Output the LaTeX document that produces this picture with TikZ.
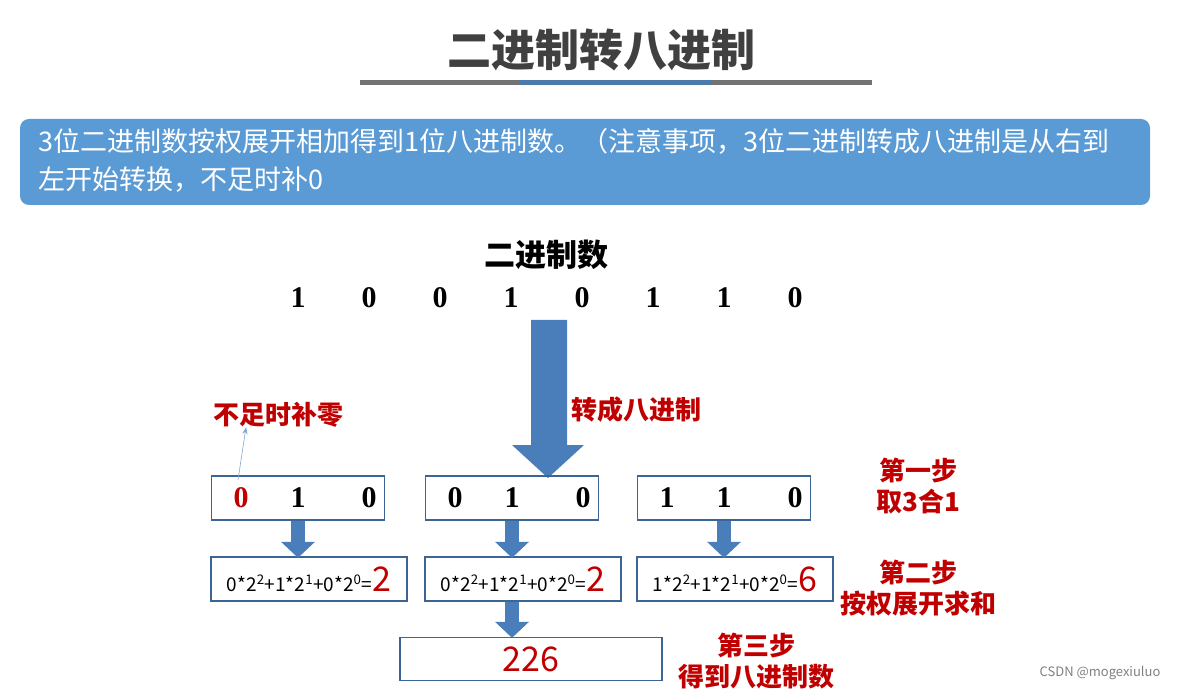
\documentclass[tikz,border=0pt]{standalone}
\usepackage{fontspec}
\setmainfont{Noto Sans CJK SC}
\newfontfamily\digitfont{Liberation Serif}
\usetikzlibrary{positioning}
\usetikzlibrary{arrows.meta}
\usetikzlibrary{calc}
\definecolor{bandblue}{HTML}{5B9BD5}
\definecolor{arrowblue}{HTML}{4A7EBB}
\definecolor{boxline}{HTML}{3A6595}
\definecolor{stepred}{HTML}{C00000}

\begin{document}
\begin{tikzpicture}[x=1pt, y=-1pt,
  digit/.style={font=\digitfont\bfseries\fontsize{30}{30}\selectfont},
  grp/.style={draw=boxline, line width=1.6pt, minimum width=173pt, minimum height=44pt},
  sumbox/.style={draw=boxline, line width=1.6pt, minimum width=196pt, minimum height=44pt, font=\fontsize{15}{15}\selectfont},
  steplabel/.style={text=stepred, font=\bfseries\fontsize{26}{31}\selectfont, align=center},
  sumtext/.style={font=\fontsize{19}{19}\selectfont, inner sep=0pt},
  fatarrow/.style={fill=arrowblue, draw=none}]
 	 \useasboundingbox (0,0) rectangle (1185,692);
 	 % title
 	 \node[font=\bfseries\fontsize{44}{44}\selectfont, text=black!75] (title) at (601,50) {二进制转八进制};
 	 \draw[line width=5pt, black!55] (360,83) -- (872,83);
 	 \draw[line width=5pt, bandblue!80!black] (520,83) -- (712,83);
 	 % note band
 	 \node[fill=bandblue, rounded corners=9pt, minimum width=1130pt, minimum height=86pt] (band) at (585,162) {};
 	 \node[anchor=north west, text=white, font=\fontsize{27}{38}\selectfont, align=left, inner sep=0pt] (note) at (38,128)
 	   {3位二进制数按权展开相加得到1位八进制数。（注意事项，3位二进制转成八进制是从右到\\左开始转换，不足时补0};
 	 % binary number
 	 \node[font=\bfseries\fontsize{31}{31}\selectfont] (bin) at (546,255) {二进制数};
 	 \foreach \d [count=\i] in {1,0,0,1,0,1,1,0} {
 	 	\node[digit] (b\i) at ({298+71*(\i-1)},298) {\d};
 	 }
 	 % big arrow
 	 \fill[fatarrow] (531,320) -- (567,320) -- (567,445) -- (584,445) -- (548,478) -- (512,445) -- (531,445) -- cycle;
 	 \node[steplabel, anchor=west] (conv) at (568,410) {转成八进制};
 	 % groups of three
 	 \foreach \x/\n in {298/1,512/2,724/3} {
 	 	\node[grp] (g\n) at (\x,498) {};
 	 	\node[sumbox] (s\n) at ({\x+11},579) {};
 	 	\fill[fatarrow] ($(g\n.south)+(-7,0)$) rectangle ($(g\n.south)+(7,23)$);
 	 	\fill[fatarrow] ($(g\n.south)+(-17,21)$) -- ($(g\n.south)+(17,21)$) -- ($(g\n.south)+(0,37)$) -- cycle;
 	 }
 	 \foreach \n/\a/\b/\c in {1/0/1/0,2/0/1/0,3/1/1/0} {
 	 	\node[digit] (d\n a) at ($(g\n)+(-57,0)$) {\a};
 	 	\node[digit] (d\n b) at (g\n) {\b};
 	 	\node[digit] (d\n c) at ($(g\n)+(71,0)$) {\c};
 	 }
 	 \node[digit, text=stepred, fill=white, inner sep=1pt] at (d1a) {0};
 	 % sums
 	 \node[sumtext] at (s1) {0*2\textsuperscript{2}+1*2\textsuperscript{1}+0*2\textsuperscript{0}={\color{stepred}\fontsize{34}{34}\selectfont 2}};
 	 \node[sumtext] at (s2) {0*2\textsuperscript{2}+1*2\textsuperscript{1}+0*2\textsuperscript{0}={\color{stepred}\fontsize{34}{34}\selectfont 2}};
 	 \node[sumtext] at (s3) {1*2\textsuperscript{2}+1*2\textsuperscript{1}+0*2\textsuperscript{0}={\color{stepred}\fontsize{34}{34}\selectfont 6}};
 	 % result
 	 \node[draw=boxline, line width=1.6pt, minimum width=262pt, minimum height=43pt, text=stepred, font=\fontsize{34}{34}\selectfont] (res) at (531,659) {226};
 	 \fill[fatarrow] ($(s2.south)+(-18,0)$) rectangle ($(s2.south)+(-4,22)$);
 	 \fill[fatarrow] ($(s2.south)+(-28,20)$) -- ($(s2.south)+(6,20)$) -- ($(s2.south)+(-11,36)$) -- cycle;
 	 % padding hint
 	 \node[steplabel, anchor=west] (pad) at (210,415) {不足时补零};
 	 \coordinate (padfrom) at (238,480);
 	 \draw[-{Stealth[length=7pt]}, arrowblue!70, line width=0.6pt] (padfrom) -- ($(pad.south west)+(36,-4)$);
 	 % steps
 	 \node[steplabel] (st1) at (918,486) {第一步\\取3合1};
 	 \node[steplabel] (st2) at (918,588) {第二步\\按权展开求和};
 	 \node[steplabel] (st3) at (756,661) {第三步\\得到八进制数};
 	 \node[text=black!50, font=\fontsize{13}{13}\selectfont] (mark) at (1100,673) {CSDN @mogexiuluo};
\end{tikzpicture}
\end{document}
